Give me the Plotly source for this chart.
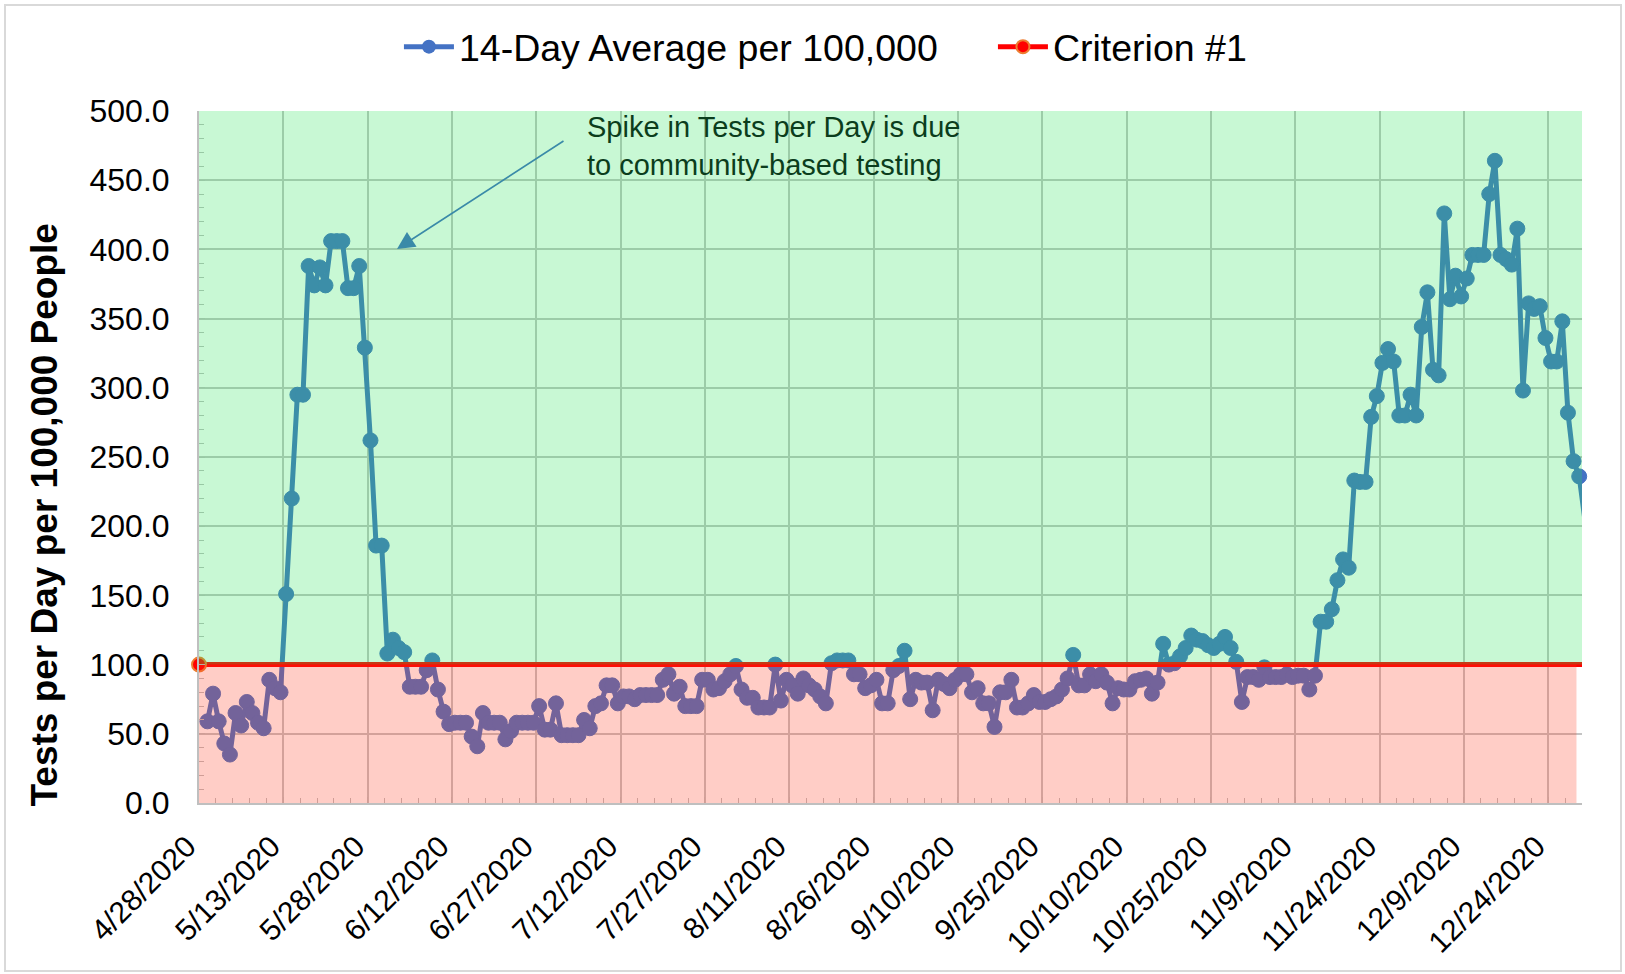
import pandas as pd
import plotly.graph_objects as go

# ---------------- data ----------------
START_DATE = "2020-04-29"          # first daily value
AXIS_START = "2020-04-28"
AXIS_END = "2020-12-30"

avg_per_100k = [
    59, 79, 59, 43, 35, 65, 56, 73, 65, 58, 54, 89, 83, 80,
    151, 220, 295, 295, 388, 374, 387, 374, 406, 406, 406, 372, 372, 388,
    329, 262, 186, 186, 108, 118, 112, 109, 84, 84, 84, 96, 103,
    82, 66, 57,
    58, 58, 58, 48, 41, 65, 58, 58, 58, 46, 52, 58, 58, 58, 58, 70, 53, 53, 72,
    49, 49, 49, 49, 60, 54, 70, 72, 85, 85, 72, 77, 77, 75, 78, 78, 78, 78,
    89, 93, 79, 84, 70, 70, 70, 89, 89, 82, 83, 88, 93, 99, 82, 76, 76, 69,
    69, 69, 100, 74, 89, 85, 79, 90, 85, 82, 77, 72, 101, 103, 103, 103, 93,
    93, 83, 85,
    89, 72, 72, 96, 99, 110, 75, 89, 87, 87, 67, 89, 86, 83, 89, 93, 93, 80,
    83, 72, 72, 55, 80, 80, 89, 69, 69, 72, 78, 73, 73, 75, 77, 82, 90, 107,
    85, 85, 93, 88, 93, 87, 72, 83, 82, 82, 88, 89, 90, 79, 87, 115, 100, 101,
    106, 112, 121, 118, 117, 114, 112, 115, 120, 112, 102, 73, 91, 91, 89, 98,
    91, 91, 91, 93, 91, 92, 92, 82, 92,
    131, 131, 140, 161, 176, 170, 233, 232, 232, 279, 294, 318, 328, 319, 280,
    280, 295, 280, 344, 369, 313, 309, 426, 364, 381, 366, 379, 396, 396, 396,
    440, 464, 396, 393, 389, 415, 298, 361, 357, 359, 336, 319, 319, 348, 282,
    247, 236, 205,
]
CRITERION_VALUE = 100.0

tick_dates = ["2020-04-28", "2020-05-13", "2020-05-28", "2020-06-12", "2020-06-27",
              "2020-07-12", "2020-07-27", "2020-08-11", "2020-08-26", "2020-09-10",
              "2020-09-25", "2020-10-10", "2020-10-25", "2020-11-09", "2020-11-24",
              "2020-12-09", "2020-12-24"]
tick_labels = ["4/28/2020", "5/13/2020", "5/28/2020", "6/12/2020", "6/27/2020",
               "7/12/2020", "7/27/2020", "8/11/2020", "8/26/2020", "9/10/2020",
               "9/25/2020", "10/10/2020", "10/25/2020", "11/9/2020", "11/24/2020",
               "12/9/2020", "12/24/2020"]
y_ticks = [0, 50, 100, 150, 200, 250, 300, 350, 400, 450, 500]

ANNOTATION_TEXT = "Spike in Tests per Day is due<br>to community-based testing"
Y_TITLE = "Tests per Day per 100,000 People"

# ---------------- layout constants ----------------
W, H = 1625, 974
L, R, T, B = 199, 43, 111, 171
PW, PH = W - L - R, H - T - B
FONT = "Liberation Sans, Arial, sans-serif"
BLUE = "#4472C4"


def px_x(x):
    return (x - L) / PW


def px_y(y):
    return (H - B - y) / PH


dates = pd.date_range(START_DATE, periods=len(avg_per_100k), freq="D")
x_pos = dates + pd.Timedelta(hours=12)   # points centred in their day bucket

fig = go.Figure()

# main series
fig.add_trace(go.Scatter(
    x=x_pos, y=avg_per_100k, mode="lines+markers",
    name="14-Day Average per 100,000",
    line=dict(color=BLUE, width=5),
    marker=dict(color=BLUE, size=15, line=dict(color=BLUE, width=1)),
    cliponaxis=False, showlegend=False,
))

# criterion line
fig.add_trace(go.Scatter(
    x=[AXIS_START, AXIS_END], y=[CRITERION_VALUE, CRITERION_VALUE],
    mode="lines", line=dict(color="#FF0000", width=5), showlegend=False,
))
fig.add_trace(go.Scatter(
    x=[AXIS_START], y=[CRITERION_VALUE], mode="markers",
    marker=dict(color="#FF0000", size=14, line=dict(color="#ED7D31", width=2)),
    cliponaxis=False, showlegend=False,
))

# legend-only entries
fig.add_trace(go.Scatter(
    x=[None], y=[None], mode="lines+markers", name="14-Day Average per 100,000",
    line=dict(color=BLUE, width=5), marker=dict(color=BLUE, size=14),
))
fig.add_trace(go.Scatter(
    x=[None], y=[None], mode="lines+markers", name="Criterion #1",
    line=dict(color="#FF0000", width=5),
    marker=dict(color="#FF0000", size=13, line=dict(color="#ED7D31", width=2)),
))

# tinted zones (drawn over the series like the original pattern fill)
fig.add_shape(type="rect", xref="x domain", yref="y", x0=0, x1=1,
              y0=CRITERION_VALUE, y1=500, layer="above", line_width=0,
              fillcolor="rgba(35,227,83,0.25)")
fig.add_shape(type="rect", xref="x domain", yref="y", x0=0, x1=0.996,
              y0=0, y1=CRITERION_VALUE, layer="above", line_width=0,
              fillcolor="rgba(255,55,27,0.25)")

# chart-area border
fig.add_shape(type="rect", xref="paper", yref="paper",
              x0=px_x(5), x1=px_x(W - 4), y0=px_y(H - 3), y1=px_y(5),
              line=dict(color="#d9d9d9", width=2), fillcolor="rgba(0,0,0,0)",
              layer="below")

# y-axis title (centred like the original, a bit below the plot centre)
fig.add_annotation(
    xref="paper", yref="paper", x=px_x(43.5), y=px_y(515),
    xanchor="center", yanchor="middle", textangle=-90, showarrow=False,
    text="<b>" + Y_TITLE + "</b>", font=dict(family=FONT, size=37, color="black"),
)

# annotation text + arrow
fig.add_annotation(
    xref="paper", yref="paper", x=px_x(585), y=px_y(146),
    xanchor="left", yanchor="middle", align="left", showarrow=False,
    text=ANNOTATION_TEXT, font=dict(family=FONT, size=29, color="#0b3d1c"),
)
fig.add_annotation(
    xref="paper", yref="paper", x=px_x(397), y=px_y(249),
    text="", showarrow=True, axref="pixel", ayref="pixel", ax=168, ay=-109,
    arrowhead=2, arrowsize=2.2, arrowwidth=1.6, arrowcolor="#3a8aa8",
)

fig.update_layout(
    width=W, height=H,
    margin=dict(l=L, r=R, t=T, b=B, autoexpand=False),
    paper_bgcolor="white", plot_bgcolor="white",
    font=dict(family=FONT, color="black"),
    legend=dict(orientation="h", xref="container", yref="container",
                x=0.2455, y=0.952, xanchor="left", yanchor="middle",
                font=dict(family=FONT, size=37.5, color="black"),
                itemwidth=50, entrywidth=529, entrywidthmode="pixels",
                bgcolor="rgba(0,0,0,0)"),
)

fig.update_xaxes(
    type="date", range=[AXIS_START, AXIS_END],
    tickmode="array", tickvals=tick_dates,
    ticktext=[t + "\u00a0\u00a0" for t in tick_labels],
    tickangle=-45, tickfont=dict(family=FONT, size=30, color="black"),
    showgrid=True, gridcolor="#c4c4c4", gridwidth=1.5,
    showline=True, linecolor="#bfbfbf", linewidth=2,
    ticks="inside", ticklen=6, tickcolor="#bfbfbf",
    minor=dict(dtick=3 * 86400000, tick0=AXIS_START, ticks="inside",
               ticklen=5, tickcolor="#bfbfbf", showgrid=False),
    zeroline=False, automargin=False, ticklabelstandoff=0,
)
fig.update_yaxes(
    range=[0, 500], tickmode="array", tickvals=y_ticks,
    tickformat=".1f", tickfont=dict(family=FONT, size=32, color="black"),
    showgrid=True, gridcolor="#c4c4c4", gridwidth=1.5,
    showline=True, linecolor="#bfbfbf", linewidth=2,
    ticks="inside", ticklen=6, tickcolor="#bfbfbf",
    minor=dict(dtick=10, ticks="inside", ticklen=5, tickcolor="#bfbfbf",
               showgrid=False),
    zeroline=False, automargin=False, ticklabelstandoff=21,
)

fig.write_html("out.html", config={"displayModeBar": False},
               post_script="document.body.style.margin='0';document.body.style.overflow='hidden';")
